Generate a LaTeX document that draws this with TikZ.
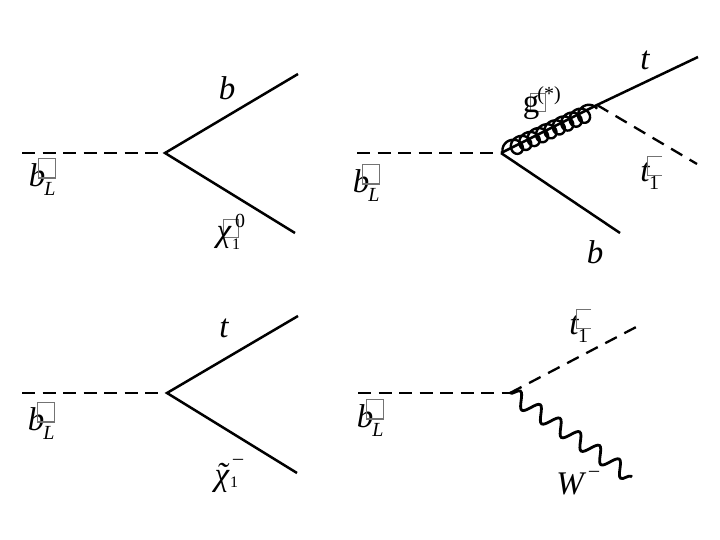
\documentclass[tikz,border=0pt]{standalone}
\usepackage{fontspec}
\setmainfont{Liberation Serif}
\usetikzlibrary{decorations.pathmorphing}
\tikzset{
  fermion/.style={line width=2.5pt},
  scalar/.style={line width=2.7pt,dash pattern=on 13pt off 7.5pt},
  scalarthin/.style={line width=2.3pt,dash pattern=on 13pt off 8.5pt},
  gluon/.style={line width=2.4pt},
  wboson/.style={line width=2.8pt,decorate,decoration={snake,amplitude=7.5pt,segment length=24pt}},
  glyphbox/.style={draw=black!55,line width=.8pt,fill=none,inner sep=0pt},
  bigit/.style={font=\fontsize{33}{33}\selectfont\itshape,inner sep=0pt},
  bigrm/.style={font=\fontsize{33}{33}\selectfont,inner sep=0pt},
  smallit/.style={font=\fontsize{20}{20}\selectfont\itshape,inner sep=0pt},
  smallrm/.style={font=\fontsize{20}{20}\selectfont,inner sep=0pt},
  tinyrm/.style={font=\fontsize{16}{16}\selectfont,inner sep=0pt},
}
\newcommand{\SbottomL}[3]{%
  \node[bigit] (#1b) at (#2-2,#3+7) {b};
  \node[glyphbox,minimum width=16.5pt,minimum height=19pt] (#1box) at (#2+8,#3) {};
  \draw[black!55,line width=1.6pt] (#1box.south west) -- (#1box.south east);
  \node[smallit] (#1sub) at (#2+11,#3+21) {L};
}
\newcommand{\StopOne}[3]{%
  \node[bigit] (#1t) at (#2,#3) {t};
  \draw[black!55,line width=.8pt] (#2+17,#3-16) -- (#2+2,#3-16) -- (#2+2,#3+3) -- (#2+17,#3+3);
  \node[smallrm] (#1sub) at (#2+9,#3+11) {1};
}
\begin{document}
\begin{tikzpicture}[x=1pt,y=-1pt]
  \useasboundingbox (0,0) rectangle (720,540);
  % top left
  \coordinate (aIn) at (22,153);
  \coordinate (aV) at (165,153);
  \coordinate (aB) at (298,74);
  \coordinate (aN) at (295,233);
  \draw[scalar] (aIn) -- (aV);
  \draw[fermion] (aB) -- (aV) -- (aN);
  \node[bigit] (aBlab) at (227,88) {b};
  \SbottomL{aS}{39}{168}
  \node[glyphbox,minimum width=15pt,minimum height=18pt] (aNbox) at (231,228) {};
  \node[bigit] (aNlab) at (224,237) {χ};
  \node[smallrm] (aNsup) at (240,221) {0};
  \node[tinyrm] (aNsub) at (236,244) {1};
  % top right
  \coordinate (bIn) at (357,153);
  \coordinate (bV) at (501,153);
  \coordinate (bG) at (597,105);
  \coordinate (bT) at (698,57);
  \coordinate (bS) at (697,164);
  \coordinate (bB) at (620,233);
  \coordinate (bCoil) at (510,149);
  \draw[scalar] (bIn) -- (bV);
  \draw[fermion] (bV) -- (bB);
  \draw[fermion] (bV) -- (bG) -- (bT);
  \draw[gluon,shift={(bCoil)},rotate=24.8] plot[domain=-90:3330,samples=340]
    ({0.0257*(\x+90)+8*sin(\x)},{-8*cos(\x)});
  \draw[scalarthin] (bG) -- (bS);
  \node[bigit] (bTlab) at (645,60) {t};
  \node[bigit] (bBlab) at (595,252) {b};
  \node[glyphbox,minimum width=15pt,minimum height=18pt] (bGbox) at (537.5,102) {};
  \node[bigrm] (bGlab) at (531,108) {g};
  \node[smallrm] (bGsup) at (549,96) {(*)};
  \SbottomL{bS}{363}{174}
  \StopOne{bU}{645}{172}
  % bottom left
  \coordinate (cIn) at (22,393);
  \coordinate (cV) at (167,393);
  \coordinate (cT) at (298,316);
  \coordinate (cC) at (297,473);
  \draw[scalar] (cIn) -- (cV);
  \draw[fermion] (cT) -- (cV) -- (cC);
  \node[bigit] (cTlab) at (224,328) {t};
  \SbottomL{cS}{38}{412}
  \node[bigit] (cClab) at (222,478) {χ\llap{˜\kern2pt}};
  \node[smallrm] (cCsup) at (238,462) {–};
  \node[tinyrm] (cCsub) at (234,482) {1};
  % bottom right
  \coordinate (dIn) at (358,393);
  \coordinate (dV) at (510,393);
  \coordinate (dS) at (640,325);
  \coordinate (dW) at (632,477);
  \draw[scalar] (dIn) -- (dV);
  \draw[scalarthin] (dV) -- (dS);
  \draw[wboson] (dV) -- (dW);
  \SbottomL{dS}{367}{409}
  \StopOne{dU}{574}{325}
  \node[bigit] (dWlab) at (570,484) {W};
  \node[smallrm] (dWsup) at (594,474) {–};
\end{tikzpicture}
\end{document}
